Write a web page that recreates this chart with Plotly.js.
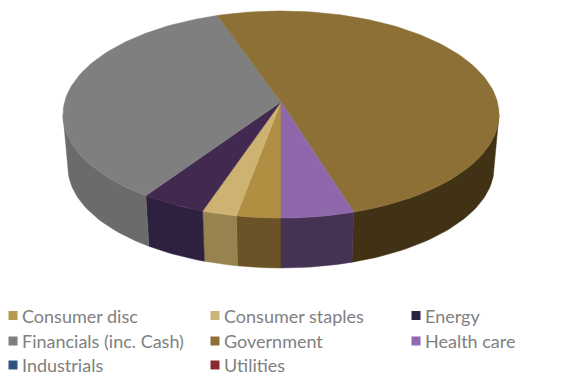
<!DOCTYPE html>
<html>
<head>
<meta charset="utf-8">
<script src="https://cdn.plot.ly/plotly-3.0.1.min.js"></script>
<style>html,body{margin:0;padding:0;background:#fff}#chart{width:561px;height:376px}</style>
</head>
<body>
<div id="chart"></div>
<script>
// Sector allocation, percent of portfolio
const categories = ["Consumer disc", "Consumer staples", "Energy", "Financials (inc. Cash)", "Government", "Health care", "Industrials", "Utilities"];
const weights = [2.9, 2.3, 4.3, 35.2, 50.5, 4.8, 0, 0];
const topColors = ["#B08F43", "#CDB271", "#41294F", "#7F7F7F", "#8D7035", "#8F68AB", "#2F5283", "#8A2A2E"];
const wallColors = ["#6A5326", "#97834F", "#2E2140", "#6B6B6B", "#423215", "#463354", "#1F3658", "#5A1C1E"];
const legendColors = ["#B59A50", "#CDB47A", "#2C2140", "#7F7F7F", "#8E7136", "#9069AE", "#2F5283", "#8A2A2E"];

// Perspective camera for the tilted disc: one plane for the lid, one for the base
const lid = {cx: 281, k: 216.4, a: 89.7, b: 102, c: -0.1208};
const base = {cx: 281, k: 211.5, a: 80.6, b: 155, c: -0.1208};

// Key layout: swatch columns and row centres
const keyColumns = [13, 215, 416];
const keyRows = [315.5, 341, 365];
const keyTextGap = 9;

function project(plane, deg) {
  // deg runs clockwise from the front of the disc
  const t = deg * Math.PI / 180;
  const u = -Math.sin(t), v = Math.cos(t);
  const w = 1 + plane.c * v;
  return [plane.cx + plane.k * u / w, (plane.a * v + plane.b) / w];
}

function arc(plane, from, to) {
  const pts = [];
  const n = Math.max(2, Math.ceil(Math.abs(to - from) / 1.5));
  for (let i = 0; i <= n; i++) pts.push(project(plane, from + (to - from) * i / n));
  return pts;
}

const total = weights.reduce((s, w) => s + w, 0);
const wallLimit = 83; // silhouette of the side wall, degrees either side of the front
const walls = [], lids = [];
let start = 0;
categories.forEach((name, i) => {
  const sweep = weights[i] / total * 360;
  const end = start + sweep;
  if (sweep > 0) {
    // Side wall: the visible front part of this sector's rim
    const ranges = [[start, Math.min(end, wallLimit)], [Math.max(start, 360 - wallLimit), end]];
    ranges.forEach(([f, t]) => {
      if (t <= f) return;
      const ring = arc(lid, f, t).concat(arc(base, t, f));
      ring.push(ring[0]);
      walls.push({
        type: "scatter", mode: "lines", x: ring.map(p => p[0]), y: ring.map(p => p[1]),
        fill: "toself", fillcolor: wallColors[i], line: {color: wallColors[i], width: 0.5},
        showlegend: false, hoverinfo: "skip"
      });
    });
    // Top face of the sector
    const face = [[lid.cx, lid.b]].concat(arc(lid, start, end), [[lid.cx, lid.b]]);
    lids.push({
      type: "scatter", mode: "lines", x: face.map(p => p[0]), y: face.map(p => p[1]),
      fill: "toself", fillcolor: topColors[i], line: {color: topColors[i], width: 0.5},
      showlegend: false, hoverinfo: "skip"
    });
  }
  start = end;
});

// The key: three columns, filled row by row
const col = i => keyColumns[i % 3];
const row = i => keyRows[Math.floor(i / 3)];
const swatches = {
  type: "scatter", mode: "markers",
  x: categories.map((_, i) => col(i)), y: categories.map((_, i) => row(i)),
  marker: {symbol: "square", size: 9, color: legendColors, line: {width: 0}},
  showlegend: false, hoverinfo: "skip"
};
const labels = categories.map((name, i) => ({
  x: col(i) + keyTextGap, y: row(i), xref: "x", yref: "y", text: name,
  xanchor: "left", yanchor: "middle", showarrow: false, align: "left",
  font: {family: "Lato, 'Open Sans', sans-serif", size: 18, color: "#808080"},
  borderpad: 0, borderwidth: 0
}));

const layout = {
  width: 561, height: 376,
  margin: {l: 0, r: 0, t: 0, b: 0, autoexpand: false},
  paper_bgcolor: "#fff", plot_bgcolor: "#fff",
  xaxis: {range: [0, 561], visible: false, fixedrange: true},
  yaxis: {range: [376, 0], visible: false, fixedrange: true},
  showlegend: false,
  annotations: labels
};

Plotly.newPlot("chart", walls.concat(lids, [swatches]), layout, {displayModeBar: false, staticPlot: true});
</script>
</body>
</html>
